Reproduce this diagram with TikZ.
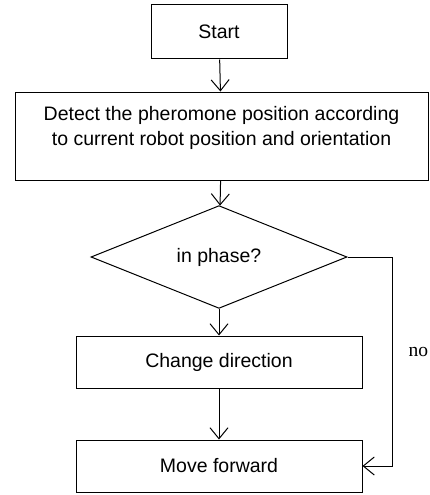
\documentclass[tikz,border=0pt]{standalone}
\usepackage{fontspec}
\setsansfont{Liberation Sans}
\setmainfont{Liberation Serif}
\usetikzlibrary{arrows.meta,shapes.geometric}

\begin{document}
\begin{tikzpicture}[x=1pt,y=-1pt,line width=1pt]
\tikzstyle{every node}+=[inner sep=0pt,font=\sffamily\fontsize{19.5}{25}\selectfont]
\tikzstyle{box}=[draw,rectangle,align=center]
\tikzstyle{flow}=[-{Straight Barb[length=11pt,width=18pt]}]
\useasboundingbox (0,0) rectangle (430,495);
\node [box,minimum width=136,minimum height=54] (start) at (219,32) {Start};
\node [box,minimum width=413,minimum height=88,
  label={[yshift=8.5pt,align=center]center:Detect the pheromone position according\\to current robot position and orientation}] (detect) at (221.5,136) {};
\node [draw,diamond,minimum width=256,minimum height=86] (phase) at (219,257) {in phase?};
\node [box,minimum width=286,minimum height=52] (change) at (219,362) {Change direction};
\node [box,minimum width=286,minimum height=52] (move) at (219,466) {Move forward};
\coordinate (bend) at (392,257);
\draw [flow] (start) -- (detect);
\draw [flow] (detect) -- (phase);
\draw [flow] (phase) -- (change);
\draw [flow] (change) -- (move);
\draw [flow] (phase.east) -- (bend) |- (move.east);
\node [anchor=west,font=\rmfamily\fontsize{19.5}{25}\selectfont] (no) at (408,352) {no};
\end{tikzpicture}
\end{document}
